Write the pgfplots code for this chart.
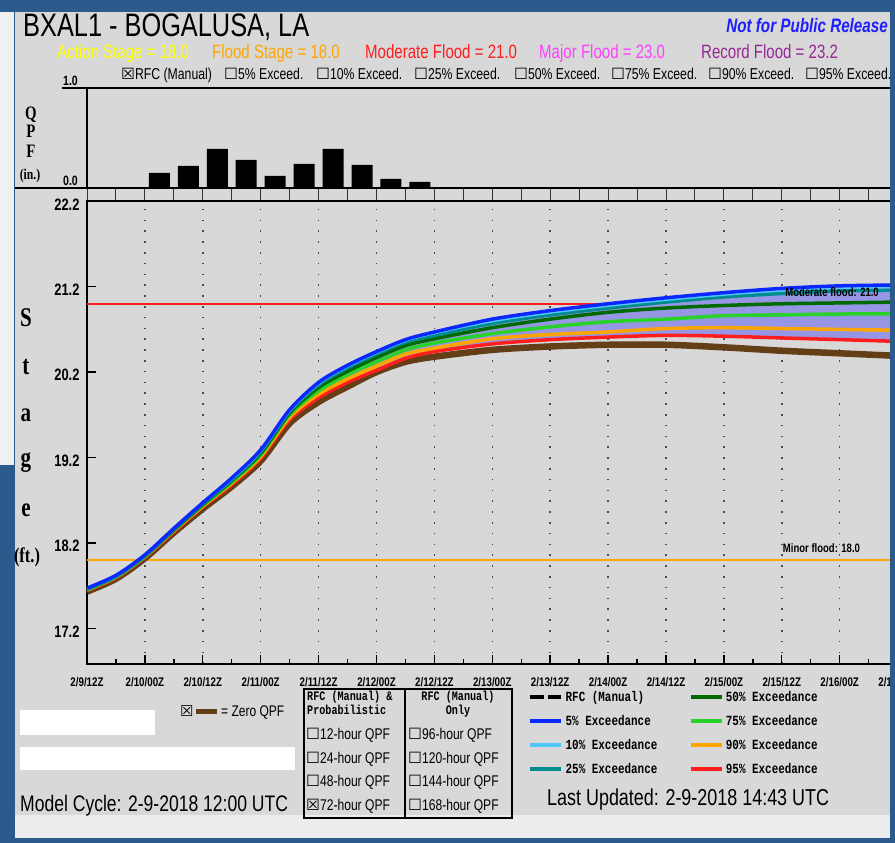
\documentclass[border=0pt]{standalone}
\usepackage{fontspec}
\setmainfont{Liberation Sans}
\newfontfamily\mono{Liberation Mono}
\newfontfamily\serif{Liberation Serif}
\newfontfamily\dv{DejaVu Sans}
\usepackage{graphicx}
\usepackage{pgfplots}
\pgfplotsset{compat=1.18}
\usepackage{pgfplotstable}
\newcommand\fs[1]{\fontsize{#1}{#1}\selectfont}
\newcommand\sx[1]{\scalebox{0.78}[1]{#1}}
\definecolor{bgblue}{RGB}{43,91,140}
\definecolor{panel}{RGB}{216,216,216}
\definecolor{strip}{RGB}{240,240,240}
\definecolor{lowband}{RGB}{236,236,236}
\definecolor{cblue}{RGB}{10,40,255}
\definecolor{clblue}{RGB}{80,200,255}
\definecolor{cteal}{RGB}{0,140,140}
\definecolor{cdgreen}{RGB}{0,105,0}
\definecolor{cgreen}{RGB}{40,210,40}
\definecolor{corange}{RGB}{255,165,0}
\definecolor{cred}{RGB}{255,30,30}
\definecolor{cbrown}{RGB}{100,62,22}
\definecolor{lav}{RGB}{150,150,228}
\definecolor{cyel}{RGB}{255,255,0}
\definecolor{cmag}{RGB}{255,64,255}
\definecolor{cpur}{RGB}{150,40,150}
\definecolor{npblue}{RGB}{30,30,255}
\pgfplotstableread{
h blue lblue teal dgreen green orange red brown
0 17.67 17.67 17.66 17.66 17.65 17.65 17.64 17.63
6 17.82 17.82 17.81 17.81 17.80 17.80 17.79 17.78
12 18.06 18.06 18.05 18.05 18.04 18.04 18.03 18.02
18 18.37 18.37 18.36 18.35 18.35 18.34 18.33 18.32
24 18.67 18.67 18.66 18.65 18.64 18.63 18.62 18.60
30 18.96 18.95 18.94 18.93 18.91 18.90 18.88 18.86
36 19.29 19.28 19.27 19.25 19.23 19.21 19.19 19.16
42 19.76 19.75 19.74 19.72 19.70 19.67 19.64 19.60
48 20.08 20.07 20.05 20.02 19.98 19.94 19.90 19.85
54 20.28 20.27 20.25 20.21 20.17 20.12 20.08 20.03
60 20.44 20.43 20.41 20.37 20.32 20.27 20.22 20.20
66 20.58 20.57 20.55 20.51 20.46 20.41 20.36 20.32
72 20.67 20.66 20.63 20.59 20.54 20.48 20.44 20.38
84 20.82 20.80 20.77 20.72 20.65 20.59 20.53 20.46
96 20.92 20.90 20.87 20.82 20.73 20.64 20.58 20.50
108 21.00 20.98 20.95 20.90 20.79 20.67 20.61 20.52
120 21.07 21.05 21.02 20.95 20.82 20.71 20.63 20.52
132 21.13 21.11 21.08 20.98 20.86 20.72 20.62 20.49
144 21.18 21.16 21.12 21.00 20.87 20.71 20.60 20.45
156 21.21 21.19 21.15 21.01 20.88 20.70 20.58 20.42
168 21.22 21.20 21.16 21.02 20.88 20.69 20.56 20.39
}\stage
% band between 5% (forward) and 95% (backward) exceedance
\pgfplotstableread{
h y
0 17.67
6 17.82
12 18.06
18 18.37
24 18.67
30 18.96
36 19.29
42 19.76
48 20.08
54 20.28
60 20.44
66 20.58
72 20.67
84 20.82
96 20.92
108 21.00
120 21.07
132 21.13
144 21.18
156 21.21
168 21.22
168 20.56
156 20.58
144 20.60
132 20.62
120 20.63
108 20.61
96 20.58
84 20.53
72 20.44
66 20.36
60 20.22
54 20.08
48 19.90
42 19.64
36 19.19
30 18.88
24 18.62
18 18.33
12 18.03
6 17.79
0 17.64
}\band
\begin{document}
\begin{tikzpicture}[x=1pt,y=1pt]
\path[use as bounding box] (0,0) rectangle (895,843);
\fill[bgblue] (0,0) rectangle (895,843);
\fill[strip] (0,378) rectangle (14,831);
\fill[panel] (15,28) rectangle (890,831);
\fill[lowband] (15,5) rectangle (890,28);
% header texts
\node[anchor=base west, inner sep=0] at (23,806) {\fs{32.5}\sx{BXAL1 - BOGALUSA, LA}};
\node[anchor=base east, inner sep=0, text=npblue] at (888,810) {\fs{19.5}\bfseries\itshape\sx{Not for Public Release}};
\node[anchor=base west, inner sep=0, text=cyel] at (57,784) {\fs{19.3}\sx{Action Stage = 18.0}};
\node[anchor=base west, inner sep=0, text=corange] at (212,784) {\fs{19.3}\sx{Flood Stage = 18.0}};
\node[anchor=base west, inner sep=0, text=cred] at (365,784) {\fs{19.3}\sx{Moderate Flood = 21.0}};
\node[anchor=base west, inner sep=0, text=cmag] at (539,784) {\fs{19.3}\sx{Major Flood = 23.0}};
\node[anchor=base west, inner sep=0, text=cpur] at (701,784) {\fs{19.3}\sx{Record Flood = 23.2}};
\foreach \xx/\bx/\tt in {121/☒/RFC (Manual), 224/☐/5\% Exceed., 316/☐/10\% Exceed., 414/☐/25\% Exceed., 514/☐/50\% Exceed., 611/☐/75\% Exceed., 708/☐/90\% Exceed., 805/☐/95\% Exceed.}
  \node[anchor=base west, inner sep=0] at (\xx,763) {{\dv\fs{15.5}\bx}{\fs{15.7}\sx{\tt}}};
% left labels
\foreach \yy/\tt in {723/Q, 705/P, 685/F}
  \node[anchor=base, inner sep=0] at (31,\yy) {\serif\bfseries\fs{19}\sx{\tt}};
\node[anchor=base, inner sep=0] at (30,663) {\serif\bfseries\fs{15}\sx{(in.)}};
\foreach \yy/\tt in {516/S, 468/t, 421/a, 376/g, 326/e}
  \node[anchor=base, inner sep=0] at (26,\yy) {\serif\bfseries\fs{27}\sx{\tt}};
\node[anchor=base, inner sep=0] at (27,280) {\serif\bfseries\fs{21}\sx{(ft.)}};
\node[anchor=base east, inner sep=0] at (78,757) {\bfseries\fs{13.5}\sx{1.0}};
\node[anchor=base east, inner sep=0] at (78,657) {\bfseries\fs{13.5}\sx{0.0}};
\draw[line width=1.5pt] (62,755) -- (87,755);
\draw[line width=2pt] (15,655) -- (87,655);
\foreach \k in {0,...,28} \draw[black!80, line width=1pt] ({87+28.95*\k},642) -- ({87+28.95*\k},655);
% QPF axis
\begin{axis}[at={(87pt,655pt)}, anchor=south west, scale only axis, width=813pt, height=100pt,
  xmin=0, xmax=168.5, ymin=0, ymax=1, xtick=\empty, ytick=\empty,
  axis line style={line width=1.6pt}]
\addplot[ybar, fill=black, draw=none, bar width=21pt] coordinates {(15,0.15)(21,0.22)(27,0.39)(33,0.28)(39,0.12)(45,0.24)(51,0.39)(57,0.23)(63,0.09)(69,0.06)};
\end{axis}
% Stage axis
\begin{axis}[at={(87pt,179pt)}, anchor=south west, scale only axis, width=813pt, height=462.7pt,
  xmin=0, xmax=168.5, ymin=16.782, ymax=22.2,
  xtick={0,12,...,168}, minor xtick={6,18,...,162},
  xticklabels={\sx{2/9/12Z},\sx{2/10/00Z},\sx{2/10/12Z},\sx{2/11/00Z},\sx{2/11/12Z},\sx{2/12/00Z},\sx{2/12/12Z},\sx{2/13/00Z},\sx{2/13/12Z},\sx{2/14/00Z},\sx{2/14/12Z},\sx{2/15/00Z},\sx{2/15/12Z},\sx{2/16/00Z},\sx{2/16/12Z}},
  ytick={17.2,18.2,19.2,20.2,21.2,22.2},
  yticklabels={\sx{17.2},\sx{18.2},\sx{19.2},\sx{20.2},\sx{21.2},\sx{22.2}},
  xtick pos=bottom, ytick pos=left, tick align=inside,
  major tick length=9pt, minor tick length=5pt,
  tick style={black, line width=1.4pt},
  xmajorgrids, major x grid style={black!70, line width=1.5pt, dash pattern=on 1.5pt off 9.3pt},
  axis line style={line width=1.6pt},
  xticklabel style={font=\bfseries\fs{12.5}, yshift=-10pt},
  yticklabel style={font=\bfseries\fs{16.5}, xshift=-4pt, yshift=-3pt},
  legend columns=2,
  legend style={at={(0.5387,-0.05)}, anchor=north west, draw=none, fill=none,
    font=\mono\bfseries\fs{14}, legend cell align=left, row sep=8.3pt,
    /tikz/every even column/.append style={column sep=29pt}},
  legend image code/.code={\draw[#1] (0pt,0pt) -- (31pt,0pt);},
]
\addlegendimage{black, line width=4.5pt, dash pattern=on 14pt off 4pt}
\addlegendentry{\sx{RFC (Manual)}}
\addlegendimage{cdgreen, line width=4.5pt}
\addlegendentry{\sx{50\% Exceedance}}
\addlegendimage{cblue, line width=4.5pt}
\addlegendentry{\sx{5\% Exceedance}}
\addlegendimage{cgreen, line width=4.5pt}
\addlegendentry{\sx{75\% Exceedance}}
\addlegendimage{clblue, line width=4.5pt}
\addlegendentry{\sx{10\% Exceedance}}
\addlegendimage{corange, line width=4.5pt}
\addlegendentry{\sx{90\% Exceedance}}
\addlegendimage{cteal, line width=4.5pt}
\addlegendentry{\sx{25\% Exceedance}}
\addlegendimage{cred, line width=4.5pt}
\addlegendentry{\sx{95\% Exceedance}}
\addplot[cred, line width=2pt, forget plot] coordinates {(0,21.0) (168.5,21.0)};
\addplot[corange, line width=2pt, forget plot] coordinates {(0,18.0) (168.5,18.0)};
\addplot[fill=lav, draw=none, forget plot] table[x=h,y=y]{\band} -- cycle;
\addplot[cbrown, line width=6.5pt, smooth, forget plot] table[x=h,y=brown]{\stage};
\addplot[cred, line width=3.5pt, smooth, forget plot] table[x=h,y=red]{\stage};
\addplot[corange, line width=3.5pt, smooth, forget plot] table[x=h,y=orange]{\stage};
\addplot[cgreen, line width=3.5pt, smooth, forget plot] table[x=h,y=green]{\stage};
\addplot[cdgreen, line width=3.5pt, smooth, forget plot] table[x=h,y=dgreen]{\stage};
\addplot[cteal, line width=3.5pt, smooth, forget plot] table[x=h,y=teal]{\stage};
\addplot[clblue, line width=3pt, smooth, forget plot] table[x=h,y=lblue]{\stage};
\addplot[cblue, line width=3.5pt, smooth, forget plot] table[x=h,y=blue]{\stage};
\node[anchor=base west, inner sep=0] at (axis cs:144.7,21.08) {\bfseries\fs{12.2}\sx{Moderate flood: 21.0}};
\node[anchor=base west, inner sep=0] at (axis cs:144.2,18.09) {\bfseries\fs{12.2}\sx{Minor flood: 18.0}};
\end{axis}
\fill[bgblue] (890,0) rectangle (895,843);
% bottom area
\fill[white] (20,108) rectangle (155,133);
\fill[white] (20,73) rectangle (295,96);
\node[anchor=base west, inner sep=0] at (180,126) {\dv\fs{15}☒};
\draw[cbrown, line width=5pt] (196,131) -- (217,131);
\node[anchor=base west, inner sep=0] at (221,126) {\fs{15.4}\sx{= Zero QPF}};
\node[anchor=base west, inner sep=0] at (20,31) {\fs{22.5}\sx{Model Cycle: 2-9-2018 12:00 UTC}};
\node[anchor=base west, inner sep=0] at (547,37) {\fs{23}\sx{Last Updated: 2-9-2018 14:43 UTC}};
\draw[line width=1.6pt] (304,25) rectangle (512,154);
\draw[line width=1.6pt] (405,25) -- (405,154);
\node[anchor=base west, inner sep=0] at (307,142.5) {\mono\bfseries\fs{13}\sx{RFC (Manual) \&}};
\node[anchor=base west, inner sep=0] at (307,128.5) {\mono\bfseries\fs{13}\sx{Probabilistic}};
\node[anchor=base, inner sep=0] at (458,142.5) {\mono\bfseries\fs{13}\sx{RFC (Manual)}};
\node[anchor=base, inner sep=0] at (458,128.5) {\mono\bfseries\fs{13}\sx{Only}};
\foreach \yy/\bx/\tt in {103/☐/12-hour QPF, 79/☐/24-hour QPF, 56/☐/48-hour QPF, 32/☒/72-hour QPF}
  \node[anchor=base west, inner sep=0] at (306,\yy) {{\dv\fs{15.5}\bx}{\fs{15.5}\sx{\tt}}};
\foreach \yy/\tt in {103/96-hour QPF, 79/120-hour QPF, 56/144-hour QPF, 32/168-hour QPF}
  \node[anchor=base west, inner sep=0] at (408,\yy) {{\dv\fs{15.5}☐}{\fs{15.5}\sx{\tt}}};
\end{tikzpicture}
\end{document}
